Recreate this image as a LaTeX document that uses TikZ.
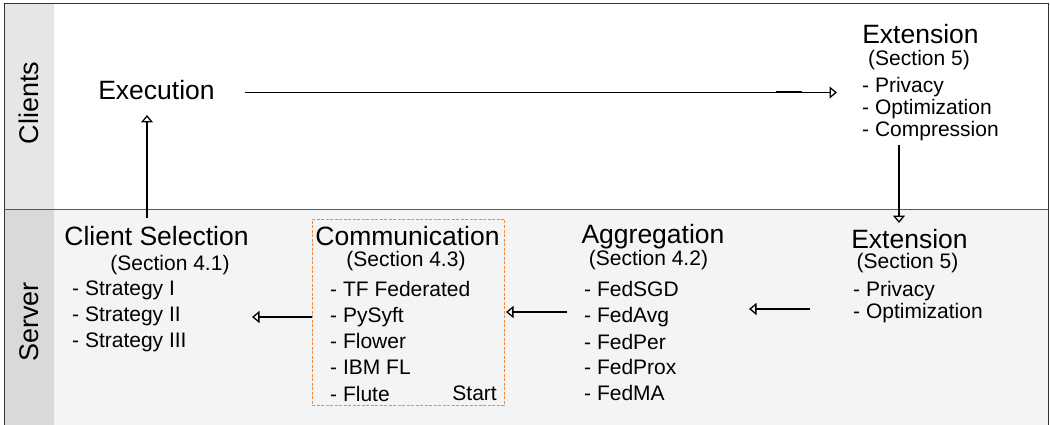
\documentclass[tikz,border=0pt]{standalone}
\usepackage{fontspec}
\setmainfont{Liberation Sans}
\usetikzlibrary{arrows.meta}
\definecolor{labclients}{HTML}{E6E6E6}
\definecolor{labserver}{HTML}{D9D9D9}
\definecolor{serverbg}{HTML}{F4F4F4}
\definecolor{commorange}{HTML}{F08A3C}
\begin{document}
\begin{tikzpicture}[x=1pt,y=-1pt,
  head/.style={font=\fontsize{26.5}{30}\selectfont, anchor=base, inner sep=0pt},
  sect/.style={font=\fontsize{21}{25}\selectfont, anchor=base, inner sep=0pt},
  item/.style={font=\fontsize{21}{25}\selectfont, anchor=base west, inner sep=0pt},
  lane/.style={font=\fontsize{27}{30}\selectfont, rotate=90, anchor=base, inner sep=0pt},
  flow/.style={line width=1.3pt, -{Triangle[open, length=7.5pt, width=12pt, line width=1.3pt]}},
  commframe/.style={draw=commorange, line width=1pt, dash pattern=on 3pt off 1.5pt, inner sep=0pt}]
\useasboundingbox (0,0) rectangle (1050,425);
% lanes
\fill[labclients] (4,4) rectangle (54,209);
\fill[labserver] (4,209) rectangle (54,432);
\fill[serverbg] (54,209) rectangle (1048,432);
\draw[line width=1pt, black!80] (4,432) -- (4,4) -- (1048,4) -- (1048,432);
\draw[line width=1pt, black!65] (4,209) -- (1048,209);
\node[lane] (clients) at (38,103) {Clients};
\node[lane] (server) at (38,322) {Server};
% clients lane
\node[head] (exec) at (156.5,99.3) {Execution};
\node[head] (extc) at (920.5,44) {Extension};
\node[sect] (extcs) at (919,66) {(Section 5)};
\node[item] (extc1) at (862,93) {- Privacy};
\node[item] (extc2) at (862,114.5) {- Optimization};
\node[item] (extc3) at (862,136.5) {- Compression};
% server lane: client selection
\node[head] (cs) at (156.5,245.7) {Client Selection};
\node[sect] (css) at (170,270.7) {(Section 4.1)};
\node[item] (cs1) at (72,295) {- Strategy I};
\node[item] (cs2) at (72,321) {- Strategy II};
\node[item] (cs3) at (72,347) {- Strategy III};
% communication
\node[commframe, minimum width=192pt, minimum height=186pt] (commbox) at (408,312) {};
\node[head] (comm) at (407.5,245) {Communication};
\node[sect] (comms) at (406,266) {(Section 4.3)};
\node[item] (comm1) at (330,296) {- TF Federated};
\node[item] (comm2) at (330,322.3) {- PySyft};
\node[item] (comm3) at (330,348.5) {- Flower};
\node[item] (comm4) at (330,374.7) {- IBM FL};
\node[item] (comm5) at (330,401) {- Flute};
\node[font=\fontsize{21}{25}\selectfont, anchor=base east, inner sep=0pt] (start) at (497,400.5) {Start};
% aggregation
\node[head] (agg) at (653,243.3) {Aggregation};
\node[sect] (aggs) at (648.5,265) {(Section 4.2)};
\node[item] (agg1) at (584,296) {- FedSGD};
\node[item] (agg2) at (584,322.5) {- FedAvg};
\node[item] (agg3) at (584,349) {- FedPer};
\node[item] (agg4) at (584,374.5) {- FedProx};
\node[item] (agg5) at (584,400.5) {- FedMA};
% server extension
\node[head] (exts) at (909.5,248) {Extension};
\node[sect] (extss) at (907.5,268.5) {(Section 5)};
\node[item] (exts1) at (853,296.7) {- Privacy};
\node[item] (exts2) at (853,318.3) {- Optimization};
% connector ends
\coordinate (execout) at (245,92.5);
\coordinate (extcin) at (837,92.5);
\coordinate (overA) at (776,92.5);
\coordinate (overB) at (802,92.5);
\coordinate (extcout) at (899,145);
\coordinate (extsin) at (899,223);
\coordinate (extsout) at (810,309);
\coordinate (aggin) at (749,309);
\coordinate (aggout) at (567,312);
\coordinate (commin) at (506,312);
\coordinate (commout) at (312,317);
\coordinate (csin) at (252,317);
\coordinate (csout) at (147,218);
\coordinate (execin) at (147,115);
% connectors
\draw[flow] (execout) -- (extcin);
\draw[line width=2pt] (overA) -- (overB);
\draw[flow] (extcout) -- (extsin);
\draw[flow] (extsout) -- (aggin);
\draw[flow] (aggout) -- (commin);
\draw[flow] (commout) -- (csin);
\draw[flow] (csout) -- (execin);
\end{tikzpicture}
\end{document}
